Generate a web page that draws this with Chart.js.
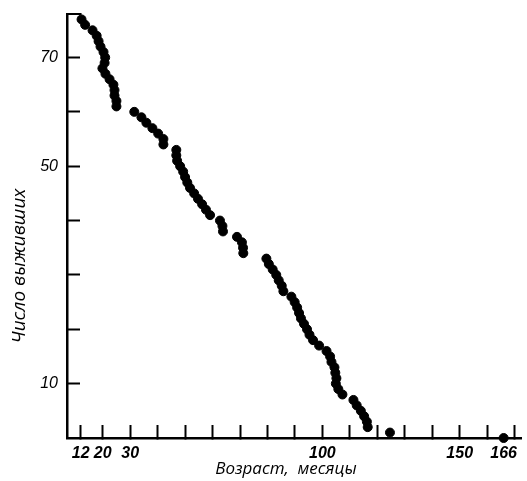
<!DOCTYPE html>
<html lang="ru">
<head>
    <meta charset="UTF-8">
    <title>Выживаемость</title>
    <script src="https://cdn.jsdelivr.net/npm/chart.js"></script>
    <style>
        html, body { margin: 0; padding: 0; background: #fff; }
        #wrap { width: 527px; height: 481px; }
    </style>
</head>
<body>
    <div id="wrap"><canvas id="myChart" width="527" height="481"></canvas></div>
    <script>
        // age at death (months) and number of survivors after it
        const ages = [12.3, 13.6, 16.3, 17.8, 18.5, 19.2, 20.3, 20.9, 20.7, 19.9,
            21.0, 22.5, 23.9, 24.3, 24.3, 25.0, 25.0, 31.5, 34.1, 35.9,
            38.1, 40.2, 42.1, 42.1, 46.8, 46.8, 47.1, 48.2, 49.3, 50.0,
            50.8, 51.8, 53.3, 54.7, 56.2, 57.6, 59.1, 62.7, 63.6, 63.8,
            68.9, 70.7, 71.1, 71.2, 79.6, 80.5, 81.9, 83.2, 84.1, 85.2,
            85.8, 88.7, 89.9, 90.8, 91.5, 92.2, 93.3, 94.4, 95.3, 96.6,
            98.8, 101.5, 102.8, 103.3, 104.4, 104.7, 105.1, 104.9, 105.8, 107.3,
            111.3, 112.5, 114.0, 115.2, 116.2, 116.5, 124.6, 166];
        const survivors = [77, 76, 75, 74, 73, 72, 71, 70, 69, 68,
            67, 66, 65, 64, 63, 62, 61, 60, 59, 58,
            57, 56, 55, 54, 53, 52, 51, 50, 49, 48,
            47, 46, 45, 44, 43, 42, 41, 40, 39, 38,
            37, 36, 35, 34, 33, 32, 31, 30, 29, 28,
            27, 26, 25, 24, 23, 22, 21, 20, 19, 18,
            17, 16, 15, 14, 13, 12, 11, 10, 9, 8,
            7, 6, 5, 4, 3, 2, 1, 0];
        // initial cohort before the first death
        const startAges = [7, 12.3];
        const startSurvivors = [78, 78];

        const xTicks = [12, 20, 30, 40, 50, 60, 70, 80, 90, 100, 110, 120, 130, 140, 150, 160, 166, 170];
        const xLabels = [12, 20, 30, 100, 150, 166];
        const yTicks = [10, 20, 30, 40, 50, 60, 70];
        const yLabels = [10, 50, 70];

        const xTitle = 'Возраст,  месяцы';
        const yTitle = 'Число выживших';

        const tickFont = "'Liberation Sans Narrow', 'Liberation Sans', sans-serif";
        const titleFont = "'Open Sans', sans-serif";

        const points = ages.map((a, i) => ({x: a, y: survivors[i]}));
        const start = startAges.map((a, i) => ({x: a, y: startSurvivors[i]}));

        // axis titles placed like in the original figure
        const axisTitles = {
            id: 'axisTitles',
            afterDraw(chart) {
                const c = chart.ctx;
                c.save();
                c.fillStyle = '#000';
                c.textAlign = 'center';
                c.textBaseline = 'middle';
                c.font = "italic 17px " + titleFont;
                c.fillText(xTitle, 286, 469);
                c.translate(20, 266);
                c.rotate(-Math.PI / 2);
                c.font = "italic 19px " + titleFont;
                c.fillText(yTitle, 0, 0);
                c.restore();
            }
        };

        // the big label padding is only there to push labels past the inward ticks,
        // don't let it eat into the plot area
        const noEdgePadding = s => {
            s.paddingTop = 0;
            s.paddingBottom = 0;
            s.paddingLeft = 0;
            s.paddingRight = 0;
        };

        new Chart(document.getElementById('myChart'), {
            type: 'scatter',
            data: {
                datasets: [
                    {
                        type: 'line',
                        data: start,
                        borderColor: '#000',
                        borderWidth: 2,
                        pointRadius: 0,
                        fill: false,
                        clip: false
                    },
                    {
                        data: points,
                        backgroundColor: '#000',
                        borderColor: '#000',
                        pointRadius: 4.5,
                        pointHoverRadius: 4.5,
                        clip: false
                    }
                ]
            },
            options: {
                responsive: false,
                animation: false,
                events: [],
                layout: { padding: { top: 14, right: 3, left: 0, bottom: 0 } },
                plugins: { legend: { display: false }, tooltip: { enabled: false } },
                scales: {
                    x: {
                        type: 'linear',
                        min: 7,
                        max: 172.5,
                        afterBuildTicks: s => { s.ticks = xTicks.map(v => ({value: v})); },
                        afterFit: s => { s.height = 43; noEdgePadding(s); },
                        border: { display: true, color: '#000', width: 2.5 },
                        grid: {
                            drawOnChartArea: false,
                            drawTicks: true,
                            tickLength: -13,
                            tickWidth: 2,
                            tickColor: ctx => (ctx.tick && ctx.tick.value === 166) ? 'rgba(0,0,0,0)' : '#000'
                        },
                        ticks: {
                            autoSkip: false,
                            maxRotation: 0,
                            padding: 19,
                            color: '#000',
                            font: { family: tickFont, size: 16, style: 'italic', weight: 'bold' },
                            callback: v => xLabels.includes(v) ? String(v) : ''
                        }
                    },
                    y: {
                        min: 0,
                        max: 78,
                        afterBuildTicks: s => { s.ticks = yTicks.map(v => ({value: v})); },
                        afterFit: s => { s.width = 67; noEdgePadding(s); },
                        border: { display: true, color: '#000', width: 2.5 },
                        grid: {
                            drawOnChartArea: false,
                            drawTicks: true,
                            tickLength: -13,
                            tickWidth: 2,
                            tickColor: '#000'
                        },
                        ticks: {
                            autoSkip: false,
                            padding: 22,
                            color: '#000',
                            font: { family: tickFont, size: 16, style: 'italic' },
                            callback: v => yLabels.includes(v) ? String(v) : ''
                        }
                    }
                }
            },
            plugins: [axisTitles]
        });
    </script>
</body>
</html>
